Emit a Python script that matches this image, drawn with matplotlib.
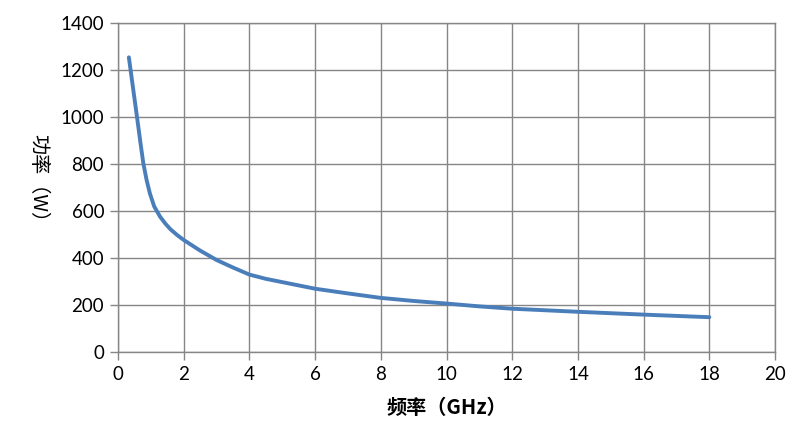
import matplotlib
matplotlib.use("Agg")
import matplotlib.pyplot as plt

freq = [0.33, 0.45, 0.59, 0.68, 0.77, 0.87, 0.97, 1.1, 1.28, 1.45, 1.6, 1.8, 2.0, 2.5,
        3.0, 3.5, 4.0, 4.5, 5.5, 6, 7, 8, 9, 10, 11, 12, 14, 16, 18]
power = [1253, 1130, 987, 893, 803, 732, 675, 620, 576, 545, 522, 498, 477, 432,
         392, 360, 330, 312, 284, 270, 250, 231, 218, 207, 195, 185, 172, 160, 149]
xticks = list(range(0, 21, 2))
yticks = list(range(0, 1401, 200))

fig = plt.figure(figsize=(8.1, 4.47), dpi=100)
ax = fig.add_axes([0.1457, 0.2119, 0.8111, 0.7373])
grid_c = "#868686"
ax.plot(freq, power, color="#4A7EBB", lw=2.8, solid_capstyle="round",
        solid_joinstyle="round", zorder=3)
ax.set_xlim(0, 20)
ax.set_ylim(0, 1400)
ax.set_xticks(xticks)
ax.set_yticks(yticks)
ax.grid(True, color=grid_c, lw=1.0)
for s in ax.spines.values():
    s.set_color(grid_c)
    s.set_linewidth(1.0)
ax.tick_params(axis="both", direction="out", length=6, width=1.0, color=grid_c,
               labelsize=13.5, labelcolor="#000000", pad=4)
for lab in ax.get_xticklabels() + ax.get_yticklabels():
    lab.set_family(["Lato", "DejaVu Sans"])
ax.set_xlabel("频率（GHz）", fontsize=14.5, fontweight="bold",
              family=["Noto Sans CJK SC", "DejaVu Sans"], labelpad=10)
fig.text(0.047, 0.59, "功率（W）", rotation=270, ha="center", va="center",
         fontsize=14.5, family=["Noto Sans CJK SC", "DejaVu Sans"])
fig.savefig("out.png", dpi=100)
